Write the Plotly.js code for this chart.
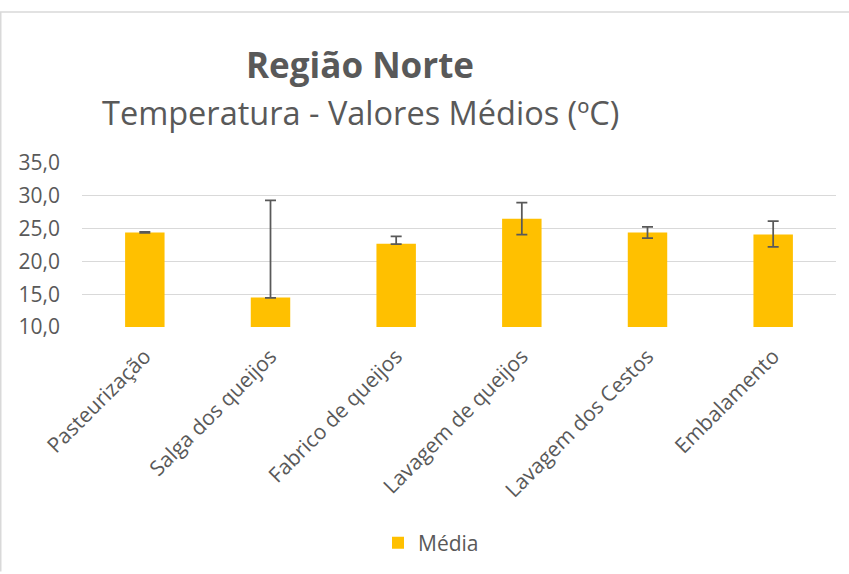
<!DOCTYPE html>
<html>
<head>
<meta charset="utf-8">
<script src="https://cdn.plot.ly/plotly-3.0.1.min.js"></script>
<style>
html,body{margin:0;padding:0;background:#fff;}
#chart{width:849px;height:574px;}
</style>
</head>
<body>
<div id="chart"></div>
<script>
var categories = ["Pasteurização","Salga dos queijos","Fabrico de queijos","Lavagem de queijos","Lavagem dos Cestos","Embalamento"];
var media = [24.4, 14.5, 22.7, 26.5, 24.4, 24.1];
var errPlus = [0.1, 14.8, 1.1, 2.45, 0.85, 2.05];
var errMinus = [0.05, 0.05, 0.05, 2.4, 0.85, 1.9];
var seriesName = "Média";
var titleMain = "Região Norte";
var titleSub = "Temperatura - Valores Médios (ºC)";

var FONT = "Open Sans, Noto Sans, sans-serif";
var GREY = "#595959";

var W = 849, H = 574, ML = 82, MR = 13, MT = 163, MB = 246;
var PW = W - ML - MR, PH = H - MT - MB;
function px(x) { return (x - ML) / PW; }
function py(y) { return (H - MB - y) / PH; }

var trace = {
  type: "bar",
  x: categories,
  y: media,
  name: seriesName,
  marker: {color: "#FFC000", line: {width: 0}},
  error_y: {
    type: "data",
    symmetric: false,
    array: errPlus,
    arrayminus: errMinus,
    color: GREY,
    thickness: 1.75,
    width: 5.5
  },
  hoverinfo: "none"
};

var layout = {
  width: W,
  height: H,
  paper_bgcolor: "#ffffff",
  plot_bgcolor: "#ffffff",
  margin: {l: ML, r: MR, t: MT, b: MB},
  separators: ",.",
  bargap: 0.686,
  showlegend: true,
  legend: {
    orientation: "h",
    x: px(378), xref: "paper", xanchor: "left",
    y: py(543), yref: "paper", yanchor: "middle",
    font: {family: FONT, size: 21, color: GREY},
    itemwidth: 30
  },
  xaxis: {
    type: "category",
    range: [-0.5, categories.length - 0.5],
    tickangle: -45,
    tickfont: {family: FONT, size: 21, color: GREY},
    showgrid: false,
    showline: false,
    ticks: "",
    zeroline: false,
    ticklabelstandoff: 12,
    automargin: false
  },
  yaxis: {
    range: [10, 35],
    dtick: 5,
    tick0: 10,
    tickformat: ".1f",
    tickfont: {family: FONT, size: 21, color: GREY},
    showgrid: true,
    gridcolor: "#D9D9D9",
    gridwidth: 1,
    showline: false,
    zeroline: false,
    ticks: "",
    ticklabelstandoff: 21,
    automargin: false
  },
  annotations: [
    {text: "<b>" + titleMain + "</b>", xref: "paper", yref: "paper", x: px(360), y: py(64),
     xanchor: "center", yanchor: "middle",
     showarrow: false, font: {family: FONT, size: 35, color: GREY}},
    {text: titleSub, xref: "paper", yref: "paper", x: px(360), y: py(112),
     xanchor: "center", yanchor: "middle",
     showarrow: false, font: {family: FONT, size: 32.5, color: GREY}}
  ],
  shapes: [
    {type: "line", xref: "paper", yref: "paper", x0: px(0), x1: px(W), y0: py(11), y1: py(11),
     line: {color: "#D9D9D9", width: 1.5}},
    {type: "line", xref: "paper", yref: "paper", x0: px(0.75), x1: px(0.75), y0: py(11), y1: py(H),
     line: {color: "#D9D9D9", width: 1.5}}
  ]
};

Plotly.newPlot("chart", [trace], layout, {displayModeBar: false, staticPlot: true});
</script>
</body>
</html>
